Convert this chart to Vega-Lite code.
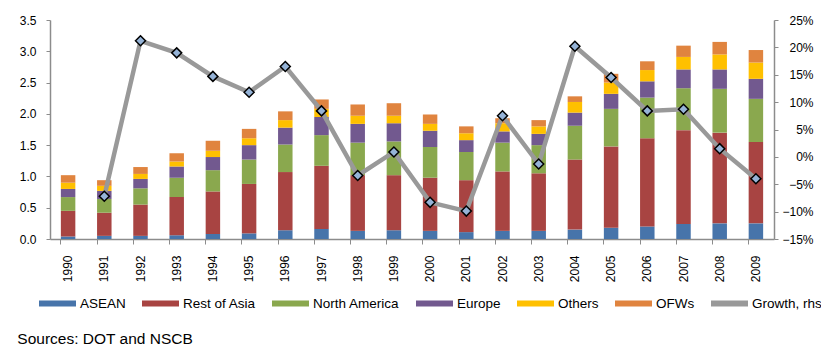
{
  "$schema": "https://vega.github.io/schema/vega-lite/v6.json",
  "width": 724,
  "height": 219,
  "padding": {"left": 17, "top": 14, "right": 0, "bottom": 0},
  "background": "white",
  "config": {
    "font": "Liberation Sans",
    "view": {"stroke": null},
    "axis": {"domainColor": "#8c8c8c", "tickColor": "#8c8c8c", "labelColor": "#000", "labelFontSize": 12, "grid": false, "title": null, "domainWidth": 1.5, "tickWidth": 1}
  },
  "title": {"text": "Sources: DOT and NSCB", "orient": "bottom", "anchor": "start", "frame": "bounds", "fontSize": 15.5, "fontWeight": "normal", "color": "#000", "offset": 22, "dx": -2},
  "datasets": {
    "bars": [
      {"year": "1990", "series": "ASEAN", "value": 0.04}, {"year": "1990", "series": "Rest of Asia", "value": 0.41}, {"year": "1990", "series": "North America", "value": 0.22}, {"year": "1990", "series": "Europe", "value": 0.13}, {"year": "1990", "series": "Others", "value": 0.10}, {"year": "1990", "series": "OFWs", "value": 0.12},
      {"year": "1991", "series": "ASEAN", "value": 0.05}, {"year": "1991", "series": "Rest of Asia", "value": 0.37}, {"year": "1991", "series": "North America", "value": 0.22}, {"year": "1991", "series": "Europe", "value": 0.13}, {"year": "1991", "series": "Others", "value": 0.08}, {"year": "1991", "series": "OFWs", "value": 0.09},
      {"year": "1992", "series": "ASEAN", "value": 0.05}, {"year": "1992", "series": "Rest of Asia", "value": 0.50}, {"year": "1992", "series": "North America", "value": 0.26}, {"year": "1992", "series": "Europe", "value": 0.15}, {"year": "1992", "series": "Others", "value": 0.08}, {"year": "1992", "series": "OFWs", "value": 0.11},
      {"year": "1993", "series": "ASEAN", "value": 0.06}, {"year": "1993", "series": "Rest of Asia", "value": 0.61}, {"year": "1993", "series": "North America", "value": 0.31}, {"year": "1993", "series": "Europe", "value": 0.18}, {"year": "1993", "series": "Others", "value": 0.08}, {"year": "1993", "series": "OFWs", "value": 0.13},
      {"year": "1994", "series": "ASEAN", "value": 0.08}, {"year": "1994", "series": "Rest of Asia", "value": 0.68}, {"year": "1994", "series": "North America", "value": 0.34}, {"year": "1994", "series": "Europe", "value": 0.21}, {"year": "1994", "series": "Others", "value": 0.10}, {"year": "1994", "series": "OFWs", "value": 0.16},
      {"year": "1995", "series": "ASEAN", "value": 0.09}, {"year": "1995", "series": "Rest of Asia", "value": 0.79}, {"year": "1995", "series": "North America", "value": 0.39}, {"year": "1995", "series": "Europe", "value": 0.23}, {"year": "1995", "series": "Others", "value": 0.11}, {"year": "1995", "series": "OFWs", "value": 0.15},
      {"year": "1996", "series": "ASEAN", "value": 0.14}, {"year": "1996", "series": "Rest of Asia", "value": 0.93}, {"year": "1996", "series": "North America", "value": 0.44}, {"year": "1996", "series": "Europe", "value": 0.27}, {"year": "1996", "series": "Others", "value": 0.12}, {"year": "1996", "series": "OFWs", "value": 0.14},
      {"year": "1997", "series": "ASEAN", "value": 0.16}, {"year": "1997", "series": "Rest of Asia", "value": 1.01}, {"year": "1997", "series": "North America", "value": 0.49}, {"year": "1997", "series": "Europe", "value": 0.29}, {"year": "1997", "series": "Others", "value": 0.13}, {"year": "1997", "series": "OFWs", "value": 0.15},
      {"year": "1998", "series": "ASEAN", "value": 0.13}, {"year": "1998", "series": "Rest of Asia", "value": 0.89}, {"year": "1998", "series": "North America", "value": 0.52}, {"year": "1998", "series": "Europe", "value": 0.30}, {"year": "1998", "series": "Others", "value": 0.13}, {"year": "1998", "series": "OFWs", "value": 0.18},
      {"year": "1999", "series": "ASEAN", "value": 0.14}, {"year": "1999", "series": "Rest of Asia", "value": 0.88}, {"year": "1999", "series": "North America", "value": 0.54}, {"year": "1999", "series": "Europe", "value": 0.29}, {"year": "1999", "series": "Others", "value": 0.12}, {"year": "1999", "series": "OFWs", "value": 0.20},
      {"year": "2000", "series": "ASEAN", "value": 0.13}, {"year": "2000", "series": "Rest of Asia", "value": 0.85}, {"year": "2000", "series": "North America", "value": 0.49}, {"year": "2000", "series": "Europe", "value": 0.26}, {"year": "2000", "series": "Others", "value": 0.11}, {"year": "2000", "series": "OFWs", "value": 0.15},
      {"year": "2001", "series": "ASEAN", "value": 0.11}, {"year": "2001", "series": "Rest of Asia", "value": 0.83}, {"year": "2001", "series": "North America", "value": 0.45}, {"year": "2001", "series": "Europe", "value": 0.19}, {"year": "2001", "series": "Others", "value": 0.11}, {"year": "2001", "series": "OFWs", "value": 0.11},
      {"year": "2002", "series": "ASEAN", "value": 0.13}, {"year": "2002", "series": "Rest of Asia", "value": 0.95}, {"year": "2002", "series": "North America", "value": 0.46}, {"year": "2002", "series": "Europe", "value": 0.18}, {"year": "2002", "series": "Others", "value": 0.13}, {"year": "2002", "series": "OFWs", "value": 0.08},
      {"year": "2003", "series": "ASEAN", "value": 0.13}, {"year": "2003", "series": "Rest of Asia", "value": 0.92}, {"year": "2003", "series": "North America", "value": 0.45}, {"year": "2003", "series": "Europe", "value": 0.18}, {"year": "2003", "series": "Others", "value": 0.12}, {"year": "2003", "series": "OFWs", "value": 0.10},
      {"year": "2004", "series": "ASEAN", "value": 0.15}, {"year": "2004", "series": "Rest of Asia", "value": 1.12}, {"year": "2004", "series": "North America", "value": 0.54}, {"year": "2004", "series": "Europe", "value": 0.21}, {"year": "2004", "series": "Others", "value": 0.17}, {"year": "2004", "series": "OFWs", "value": 0.09},
      {"year": "2005", "series": "ASEAN", "value": 0.18}, {"year": "2005", "series": "Rest of Asia", "value": 1.30}, {"year": "2005", "series": "North America", "value": 0.60}, {"year": "2005", "series": "Europe", "value": 0.24}, {"year": "2005", "series": "Others", "value": 0.18}, {"year": "2005", "series": "OFWs", "value": 0.14},
      {"year": "2006", "series": "ASEAN", "value": 0.20}, {"year": "2006", "series": "Rest of Asia", "value": 1.41}, {"year": "2006", "series": "North America", "value": 0.65}, {"year": "2006", "series": "Europe", "value": 0.26}, {"year": "2006", "series": "Others", "value": 0.18}, {"year": "2006", "series": "OFWs", "value": 0.14},
      {"year": "2007", "series": "ASEAN", "value": 0.24}, {"year": "2007", "series": "Rest of Asia", "value": 1.50}, {"year": "2007", "series": "North America", "value": 0.67}, {"year": "2007", "series": "Europe", "value": 0.30}, {"year": "2007", "series": "Others", "value": 0.20}, {"year": "2007", "series": "OFWs", "value": 0.18},
      {"year": "2008", "series": "ASEAN", "value": 0.25}, {"year": "2008", "series": "Rest of Asia", "value": 1.45}, {"year": "2008", "series": "North America", "value": 0.70}, {"year": "2008", "series": "Europe", "value": 0.31}, {"year": "2008", "series": "Others", "value": 0.24}, {"year": "2008", "series": "OFWs", "value": 0.20},
      {"year": "2009", "series": "ASEAN", "value": 0.25}, {"year": "2009", "series": "Rest of Asia", "value": 1.30}, {"year": "2009", "series": "North America", "value": 0.69}, {"year": "2009", "series": "Europe", "value": 0.32}, {"year": "2009", "series": "Others", "value": 0.26}, {"year": "2009", "series": "OFWs", "value": 0.20}
    ],
    "growth": [
      {"year": "1991", "growth": -0.072}, {"year": "1992", "growth": 0.212}, {"year": "1993", "growth": 0.190}, {"year": "1994", "growth": 0.147},
      {"year": "1995", "growth": 0.118}, {"year": "1996", "growth": 0.165}, {"year": "1997", "growth": 0.084}, {"year": "1998", "growth": -0.034},
      {"year": "1999", "growth": 0.009}, {"year": "2000", "growth": -0.083}, {"year": "2001", "growth": -0.099}, {"year": "2002", "growth": 0.075},
      {"year": "2003", "growth": -0.013}, {"year": "2004", "growth": 0.202}, {"year": "2005", "growth": 0.145}, {"year": "2006", "growth": 0.084},
      {"year": "2007", "growth": 0.087}, {"year": "2008", "growth": 0.015}, {"year": "2009", "growth": -0.040}
    ]
  },
  "layer": [
    {
      "data": {"name": "bars"},
      "transform": [{"calculate": "indexof(['ASEAN','Rest of Asia','North America','Europe','Others','OFWs'], datum.series)", "as": "k"}],
      "mark": {"type": "bar"},
      "encoding": {
        "x": {"field": "year", "type": "ordinal", "scale": {"paddingInner": 0.6, "paddingOuter": 0.3},
              "axis": {"orient": "bottom", "labelAngle": -90, "ticks": false, "labelPadding": 16, "domain": true}},
        "y": {"field": "value", "type": "quantitative", "stack": "zero", "scale": {"domain": [0, 3.5], "nice": false},
              "axis": {"orient": "left", "values": [0, 0.5, 1, 1.5, 2, 2.5, 3, 3.5], "format": ".1f", "tickSize": 4, "labelPadding": 10}},
        "color": {"field": "series", "type": "nominal",
                  "scale": {"domain": ["ASEAN", "Rest of Asia", "North America", "Europe", "Others", "OFWs", "Growth, rhs"],
                            "range": ["#4774AA", "#A84442", "#8AA84E", "#72598F", "#FFC000", "#E0843F", "#999999"]},
                  "legend": {"orient": "none", "legendX": -11, "legendY": 265, "direction": "horizontal", "columns": 7,
                             "title": null, "symbolType": "M-1,-0.16H1V0.16H-1Z", "symbolSize": 1369, "symbolStrokeWidth": 0,
                             "labelFontSize": 13.5, "labelOffset": 4, "columnPadding": 16, "labelLimit": 0, "padding": 0, "symbolOpacity": 1,
                             "labelColor": "#000"}},
        "order": {"field": "k", "type": "quantitative"}
      }
    },
    {
      "data": {"name": "growth"},
      "encoding": {
        "x": {"field": "year", "type": "ordinal",
              "axis": {"orient": "bottom", "labels": false, "ticks": true, "bandPosition": 0, "tickSize": 5, "domain": false}},
        "y": {"field": "growth", "type": "quantitative", "scale": {"domain": [-0.15, 0.25], "nice": false},
              "axis": {"orient": "right", "values": [-0.15, -0.1, -0.05, 0, 0.05, 0.1, 0.15, 0.2, 0.25], "format": ".0%", "tickSize": 4, "labelAlign": "right", "labelPadding": 35}}
      },
      "layer": [
        {"mark": {"type": "line", "strokeWidth": 4.5}, "encoding": {"color": {"datum": "Growth, rhs"}}},
        {"mark": {"type": "point", "shape": "diamond", "filled": true, "fill": "#95B3D7", "stroke": "#000", "strokeWidth": 1.5, "size": 100, "opacity": 1}}
      ]
    }
  ],
  "resolve": {"scale": {"y": "independent"}, "axis": {"x": "independent"}}
}
